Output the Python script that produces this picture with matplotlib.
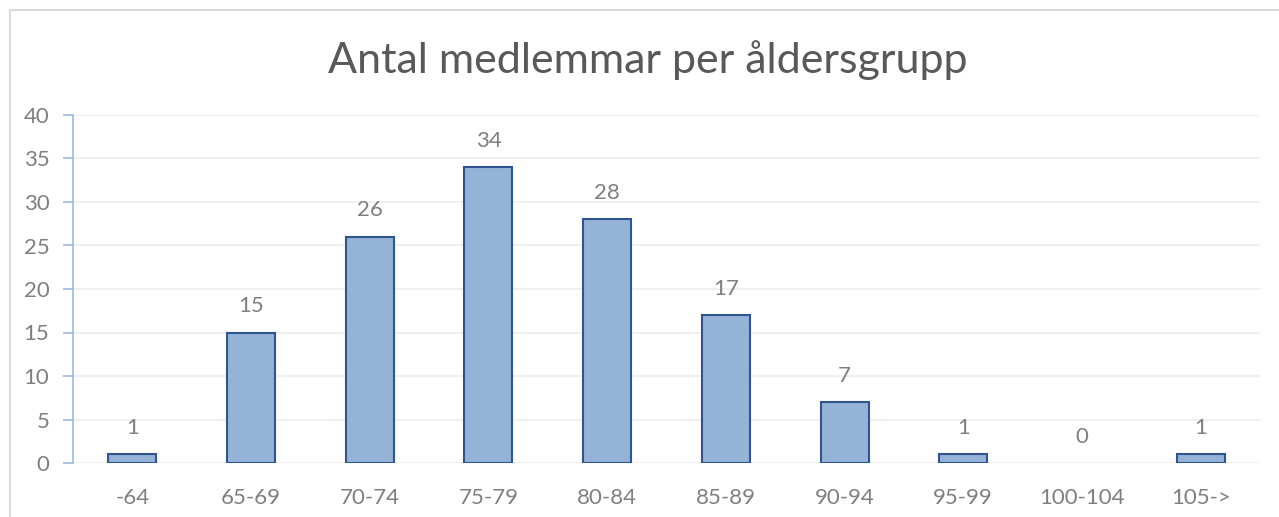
import matplotlib
matplotlib.use("Agg")
import matplotlib.pyplot as plt
from matplotlib.patches import Rectangle

categories = ["-64", "65-69", "70-74", "75-79", "80-84", "85-89", "90-94", "95-99", "100-104", "105->"]
values = [1, 15, 26, 34, 28, 17, 7, 1, 0, 1]
yticks = [0, 5, 10, 15, 20, 25, 30, 35, 40]
title = "Antal medlemmar per åldersgrupp"

plt.rcParams['font.family'] = ['Lato', 'DejaVu Sans']
W, H = 1279, 517
fig = plt.figure(figsize=(W/100, H/100), dpi=100)
ax = fig.add_axes([73/W, 1-463/H, (1260-73)/W, (463-115)/H])

x = list(range(len(categories)))
bars = ax.bar(x, values, width=0.405, color="#95B3D7", edgecolor="#2F5590", linewidth=1.5, zorder=3)
for b, v in zip(bars, values):
    if v == 0:
        b.set_linewidth(0)

for xi, v in zip(x, values):
    ax.annotate(str(v), (xi, v), xytext=(0, 19), textcoords="offset points",
                ha="center", va="center", fontsize=16, color="#7F7F7F")

ax.set_xlim(-0.5, len(categories) - 0.5)
ax.set_ylim(0, 40)
ax.set_yticks(yticks)
ax.set_xticks(x)
ax.set_xticklabels(categories)
ax.yaxis.grid(True, color="#EDEDED", linewidth=1.2, zorder=0)
ax.set_axisbelow(True)
for s in ["top", "right", "bottom"]:
    ax.spines[s].set_visible(False)
ax.spines["left"].set_color("#9DB9DE")
ax.spines["left"].set_linewidth(1.2)
ax.tick_params(axis="y", length=7, width=1.2, color="#9DB9DE", labelsize=16,
               labelcolor="#7F7F7F", pad=10)
ax.tick_params(axis="x", length=0, labelsize=16, labelcolor="#7F7F7F", pad=18)

fig.text(648/W, 1-60/H, title, ha="center", va="center", fontsize=31, color="#595959")

fig.patches.append(Rectangle((9.5/W, -0.1), 1.2, 1.1 - 9.5/H, transform=fig.transFigure,
                             fill=False, edgecolor="#D9D9D9", linewidth=1.5))

fig.savefig("out.png", dpi=100)
